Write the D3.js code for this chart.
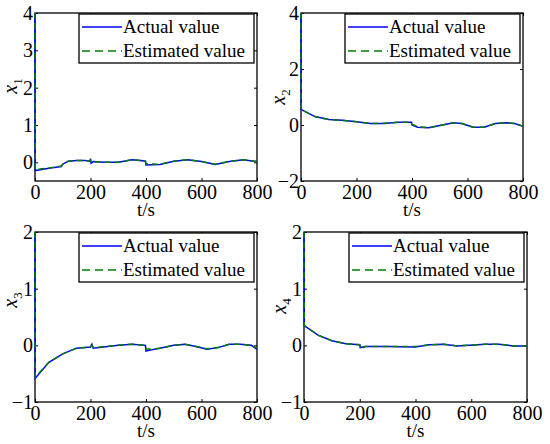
<!DOCTYPE html>
<html><head><meta charset="utf-8">
<script src="https://cdn.jsdelivr.net/npm/d3@7"></script>
<style>body{margin:0;background:#fff}svg{display:block}</style>
</head><body>
<svg id="c" width="550" height="444"></svg>
<script>
// ---- data ----
const xTicks = [0, 200, 400, 600, 800];
const legendLabels = ["Actual value", "Estimated value"];
const yLabels = ["1", "2", "3", "4"];
const yDomains = [[-0.5, 4], [-2, 4], [-1, 2], [-1, 2]];
const yTicks = [[0, 1, 2, 3, 4], [-2, 0, 2, 4], [-1, 0, 1, 2], [-1, 0, 1, 2]];

const x1Actual = [[0,4],[1,-0.22],[50,-0.16],[95,-0.11],[100,-0.05],[120,0.03],[150,0.05],[180,0.05],[198,0.03],[200,0.1],[202,-0.02],[210,0.02],[250,0.0],[300,0.0],[350,0.07],[380,0.05],[398,0.03],[400,-0.07],[450,-0.06],[500,0.03],[550,0.07],[600,0.02],[650,-0.06],[700,0.02],[750,0.07],[800,0.02]];
const x1Est    = [[0,4],[1,-0.2],[50,-0.15],[95,-0.1],[100,-0.05],[120,0.03],[150,0.05],[180,0.05],[198,0.03],[200,0.05],[202,0.0],[210,0.02],[250,0.0],[300,0.0],[350,0.07],[380,0.05],[398,0.03],[400,-0.04],[450,-0.05],[500,0.03],[550,0.07],[600,0.02],[650,-0.05],[700,0.02],[750,0.07],[800,0.02]];

const x2Actual = [[0,4],[1,0.55],[50,0.3],[100,0.2],[150,0.17],[200,0.12],[250,0.05],[300,0.05],[350,0.1],[398,0.1],[400,0.0],[420,-0.08],[460,-0.1],[500,-0.02],[550,0.08],[580,0.05],[620,-0.08],[660,-0.08],[700,0.05],[740,0.08],[770,0.05],[800,-0.05]];
const x2Est    = [[0,4],[1,0.55],[50,0.3],[100,0.2],[150,0.16],[200,0.12],[250,0.05],[300,0.06],[350,0.1],[398,0.1],[400,0.03],[420,-0.06],[460,-0.1],[500,-0.02],[550,0.08],[580,0.05],[620,-0.08],[660,-0.08],[700,0.05],[740,0.08],[770,0.05],[800,-0.04]];

const x3Actual = [[0,2],[1,-0.58],[50,-0.3],[100,-0.15],[150,-0.05],[200,-0.03],[205,0.02],[210,-0.05],[300,0.0],[350,0.02],[398,0.0],[400,-0.1],[420,-0.08],[450,-0.05],[500,0.0],[540,0.02],[580,-0.02],[620,-0.07],[660,-0.04],[700,0.02],[740,0.02],[780,0.0],[800,-0.07]];
const x3Est    = [[0,2],[1,-0.56],[50,-0.3],[100,-0.15],[150,-0.05],[200,-0.03],[205,0.0],[210,-0.04],[300,0.0],[350,0.02],[398,0.0],[400,-0.06],[420,-0.07],[450,-0.05],[500,0.0],[540,0.02],[580,-0.02],[620,-0.06],[660,-0.04],[700,0.02],[740,0.02],[780,0.0],[800,-0.05]];

const x4Actual = [[0,2],[1,0.35],[50,0.18],[100,0.08],[150,0.03],[200,0.01],[202,-0.04],[220,-0.02],[300,-0.02],[400,-0.03],[450,0.01],[500,0.02],[550,-0.01],[650,0.02],[700,0.02],[750,-0.01],[800,-0.01]];
const x4Est    = [[0,2],[1,0.35],[50,0.18],[100,0.08],[150,0.03],[200,0.01],[202,-0.06],[220,-0.02],[300,-0.02],[400,-0.02],[450,0.01],[500,0.02],[550,-0.01],[650,0.02],[700,0.02],[750,-0.01],[800,-0.01]];

const actualSeries = [x1Actual, x2Actual, x3Actual, x4Actual];
const estSeries = [x1Est, x2Est, x3Est, x4Est];

// ---- layout ----
const FONT = '"Liberation Serif"';
const panels = [
  {l:35, r:257, t:13, b:181, ly:86, lx:17},
  {l:301, r:523, t:13, b:181, ly:97, lx:285},
  {l:35, r:257, t:232, b:402, ly:300, lx:17},
  {l:304, r:527, t:232, b:402, ly:306, lx:286}
];
const svg = d3.select("#c");
const txt = (sel, size) => sel.style("font-family", FONT).style("font-size", size + "px").attr("fill", "#000");

panels.forEach((p, i) => {
  const x = d3.scaleLinear().domain([0, 800]).range([p.l, p.r]);
  const y = d3.scaleLinear().domain(yDomains[i]).range([p.b, p.t]);
  const g = svg.append("g");
  const clipId = "clip" + i;
  svg.append("clipPath").attr("id", clipId).append("rect")
    .attr("x", p.l - 1).attr("y", p.t - 1).attr("width", p.r - p.l + 2).attr("height", p.b - p.t + 2);

  // axes (inward ticks, mirrored)
  const tl = 3;
  const ax = (axis, tr) => {
    const a = g.append("g").attr("transform", tr).call(axis);
    a.select(".domain").remove();
    a.selectAll("line").attr("stroke", "#000");
    txt(a.selectAll("text"), 20);
    return a;
  };
  ax(d3.axisBottom(x).tickValues(xTicks).tickSizeInner(-tl).tickSizeOuter(0).tickPadding(4).tickFormat(d3.format("d")), `translate(0,${p.b})`);
  ax(d3.axisTop(x).tickValues(xTicks).tickSizeInner(-tl).tickSizeOuter(0).tickFormat(""), `translate(0,${p.t})`);
  ax(d3.axisLeft(y).tickValues(yTicks[i]).tickSizeInner(-tl).tickSizeOuter(0).tickPadding(2).tickFormat(d3.format("d")), `translate(${p.l},0)`);
  ax(d3.axisRight(y).tickValues(yTicks[i]).tickSizeInner(-tl).tickSizeOuter(0).tickFormat(""), `translate(${p.r},0)`);

  g.append("rect").attr("x", p.l).attr("y", p.t).attr("width", p.r - p.l).attr("height", p.b - p.t)
    .attr("fill", "none").attr("stroke", "#000").attr("stroke-width", 1.3);

  const line = d3.line().x(d => x(d[0])).y(d => y(d[1]));
  const lg = g.append("g").attr("clip-path", `url(#${clipId})`);
  lg.append("path").datum(actualSeries[i]).attr("d", line)
    .attr("fill", "none").attr("stroke", "#0000ff").attr("stroke-width", 1.5);
  lg.append("path").datum(estSeries[i]).attr("d", line)
    .attr("fill", "none").attr("stroke", "#008000").attr("stroke-width", 1.5).attr("stroke-dasharray", "6,4");

  // x label
  txt(g.append("text").attr("x", (p.l + p.r) / 2).attr("y", p.b + 35).attr("text-anchor", "middle"), 19).text("t/s");
  // y label
  const yl = txt(g.append("text").attr("transform", `translate(${p.lx},${p.ly}) rotate(-90)`)
    .attr("text-anchor", "middle"), 20);
  yl.append("tspan").style("font-style", "italic").text("x");
  yl.append("tspan").attr("dy", 5).style("font-size", "13px").text(yLabels[i]);

  // legend
  const lw = 175, lh = 49;
  const lx0 = p.r - 3 - lw, ly0 = p.t + 1;
  const leg = g.append("g");
  leg.append("rect").attr("x", lx0).attr("y", ly0).attr("width", lw).attr("height", lh)
    .attr("fill", "#fff").attr("stroke", "#000").attr("stroke-width", 1.3);
  const cols = ["#0000ff", "#008000"];
  legendLabels.forEach((lab, k) => {
    const yy = ly0 + 13 + k * 24;
    leg.append("line").attr("x1", lx0 + 3).attr("x2", lx0 + 43).attr("y1", yy).attr("y2", yy)
      .attr("stroke", cols[k]).attr("stroke-width", 1.5).attr("stroke-dasharray", k ? "8,5" : null);
    txt(leg.append("text").attr("x", lx0 + 44).attr("y", yy + 6), 19).text(lab);
  });
});
</script>
</body></html>
